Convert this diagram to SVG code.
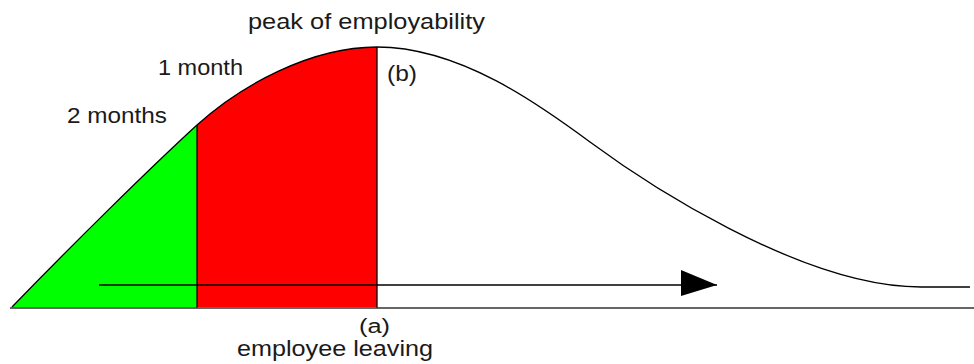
<svg xmlns="http://www.w3.org/2000/svg" width="974" height="364" viewBox="0 0 974 364">
<style>
.t{font-family:"Liberation Sans",Arial,sans-serif;font-size:22px;fill:#1a1a1a}
.ln{fill:none;stroke:#000;stroke-width:1.3}
</style>
<defs>
<marker id="ah" markerUnits="userSpaceOnUse" markerWidth="40" markerHeight="30" refX="36" refY="15" orient="auto">
<polygon points="0,0 36,15 0,26" fill="#000"/>
</marker>
</defs>
<rect width="974" height="364" fill="#fff"/>
<g id="areas">
<path id="green" d="M12,307 C70,247 150,168 197,125 L197,307 Z" fill="#00ff00"/>
<path id="red" d="M197,307 L197,125 C240,86 310,47 377,47 L377,307 Z" fill="#ff0000"/>
</g>
<g id="curve">
<path class="ln" d="M12,307 C70,247 150,168 197,125 C240,86 310,47 377,47 C460,47 540,105 590,142 C640,179 800,287 921,287 L970,287"/>
<line class="ln" x1="197" y1="125" x2="197" y2="308"/>
<line class="ln" x1="377" y1="47" x2="377" y2="308"/>
</g>
<g id="connectors">
<line x1="10" y1="308" x2="974" y2="308" stroke="#333" stroke-width="1.6"/>
<line x1="99" y1="285" x2="717" y2="285" stroke="#000" stroke-width="1.3" marker-end="url(#ah)"/>
</g>
<g id="labels">
<text class="t" x="248" y="29" textLength="237" lengthAdjust="spacingAndGlyphs">peak of employability</text>
<text class="t" x="158" y="75" textLength="85" lengthAdjust="spacingAndGlyphs">1 month</text>
<text class="t" x="67" y="123" textLength="100" lengthAdjust="spacingAndGlyphs">2 months</text>
<text class="t" x="387" y="81" textLength="30" lengthAdjust="spacingAndGlyphs">(b)</text>
<text class="t" x="359" y="333" style="font-size:20px" textLength="31" lengthAdjust="spacingAndGlyphs">(a)</text>
<text class="t" x="237" y="356" textLength="196" lengthAdjust="spacingAndGlyphs">employee leaving</text>
</g>
</svg>
